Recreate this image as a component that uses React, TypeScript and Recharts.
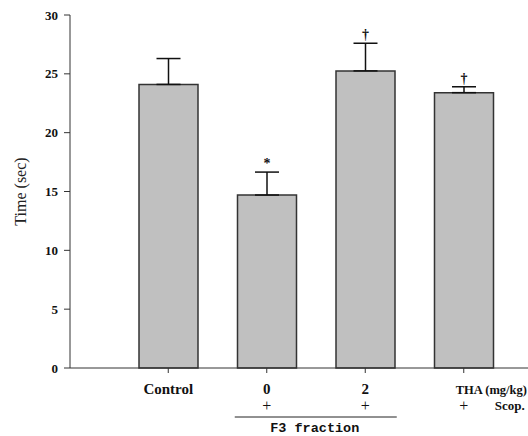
import React from 'react';
import { BarChart, Bar, XAxis, YAxis, ErrorBar, LabelList } from 'recharts';

const groups = ['Control', '0', '2', 'THA'];
const scopRow = ['', '+', '+', '+'];
const times = [24.1, 14.7, 25.25, 23.4];
const sems = [2.2, 1.95, 2.35, 0.5];
const marks = ['', '*', '\u2020', '\u2020'];
const yTicks = [0, 5, 10, 15, 20, 25, 30];

const data = groups.map((g, i) => ({
  name: g,
  time: times[i],
  err: [0, sems[i]],
  mark: marks[i],
}));

const serif = '"Liberation Serif", "DejaVu Serif", serif';

const XTick = (props: any) => {
  const { x, y, payload, index } = props;
  const isTha = payload.value === 'THA';
  const label = isTha ? 'THA (mg/kg)' : payload.value;
  return (
    <g>
      <text
        x={isTha ? x - 8 : x}
        y={y + 19}
        textAnchor={isTha ? 'start' : 'middle'}
        fontFamily={serif}
        fontWeight="bold"
        fontSize={isTha ? 12.5 : 15}
        fill="#111"
      >
        {label}
      </text>
      <text x={x} y={y + 36} textAnchor="middle" fontFamily={serif} fontSize={16} fill="#111">
        {scopRow[index]}
      </text>
      {isTha && (
        <text x={x + 31} y={y + 35} fontFamily={serif} fontWeight="bold" fontSize={13} fill="#111">
          Scop.
        </text>
      )}
      {index === 1 && (
        <g>
          <line x1={x - 32} x2={x + 130} y1={y + 42} y2={y + 42} stroke="#222" strokeWidth={1} />
          <text
            x={x + 48}
            y={y + 57}
            textAnchor="middle"
            fontFamily='"Liberation Mono", "DejaVu Sans Mono", monospace'
            fontWeight="bold"
            fontSize={13.5}
            fill="#111"
          >
            F3 fraction
          </text>
        </g>
      )}
    </g>
  );
};

const MarkLabel = (props: any) => {
  const { x, y, width, height, index, value } = props;
  if (!value) return null;
  const pxPerUnit = Number(height) / times[index];
  const top = Number(y) - sems[index] * pxPerUnit;
  return (
    <text
      x={Number(x) + Number(width) / 2}
      y={top - 4}
      textAnchor="middle"
      fontFamily={serif}
      fontWeight="bold"
      fontSize={14}
      fill="#111"
    >
      {value}
    </text>
  );
};

export default function App() {
  return (
    <div style={{ position: 'absolute', left: 0, top: 0, width: 528, height: 436, overflow: 'hidden', background: '#fff' }}>
      <BarChart width={528} height={436} data={data} margin={{ top: 15, right: 0, left: 0, bottom: 0 }}>
        <XAxis
          dataKey="name"
          height={68}
          padding={{ left: 49, right: 15 }}
          axisLine={{ stroke: '#333', strokeWidth: 1 }}
          tickLine={{ stroke: '#333' }}
          tickSize={5}
          tick={<XTick />}
          interval={0}
        />
        <YAxis
          width={70}
          domain={[0, 30]}
          ticks={yTicks}
          interval={0}
          axisLine={{ stroke: '#333', strokeWidth: 1 }}
          tickLine={{ stroke: '#333' }}
          tickSize={6}
          tickMargin={6}
          tick={{ fontFamily: serif, fontWeight: 'bold', fontSize: 13, fill: '#111' }}
          label={{
            value: 'Time (sec)',
            angle: -90,
            position: 'insideLeft',
            offset: 20,
            style: { fontFamily: serif, fontSize: 16, fill: '#222', textAnchor: 'middle' },
          }}
        />
        <Bar dataKey="time" fill="#c0c0c0" stroke="#333" strokeWidth={1.5} barSize={59} isAnimationActive={false}>
          <ErrorBar dataKey="err" direction="y" width={12} stroke="#111" strokeWidth={1.5} />
          <LabelList dataKey="mark" content={<MarkLabel />} />
        </Bar>
      </BarChart>
    </div>
  );
}
